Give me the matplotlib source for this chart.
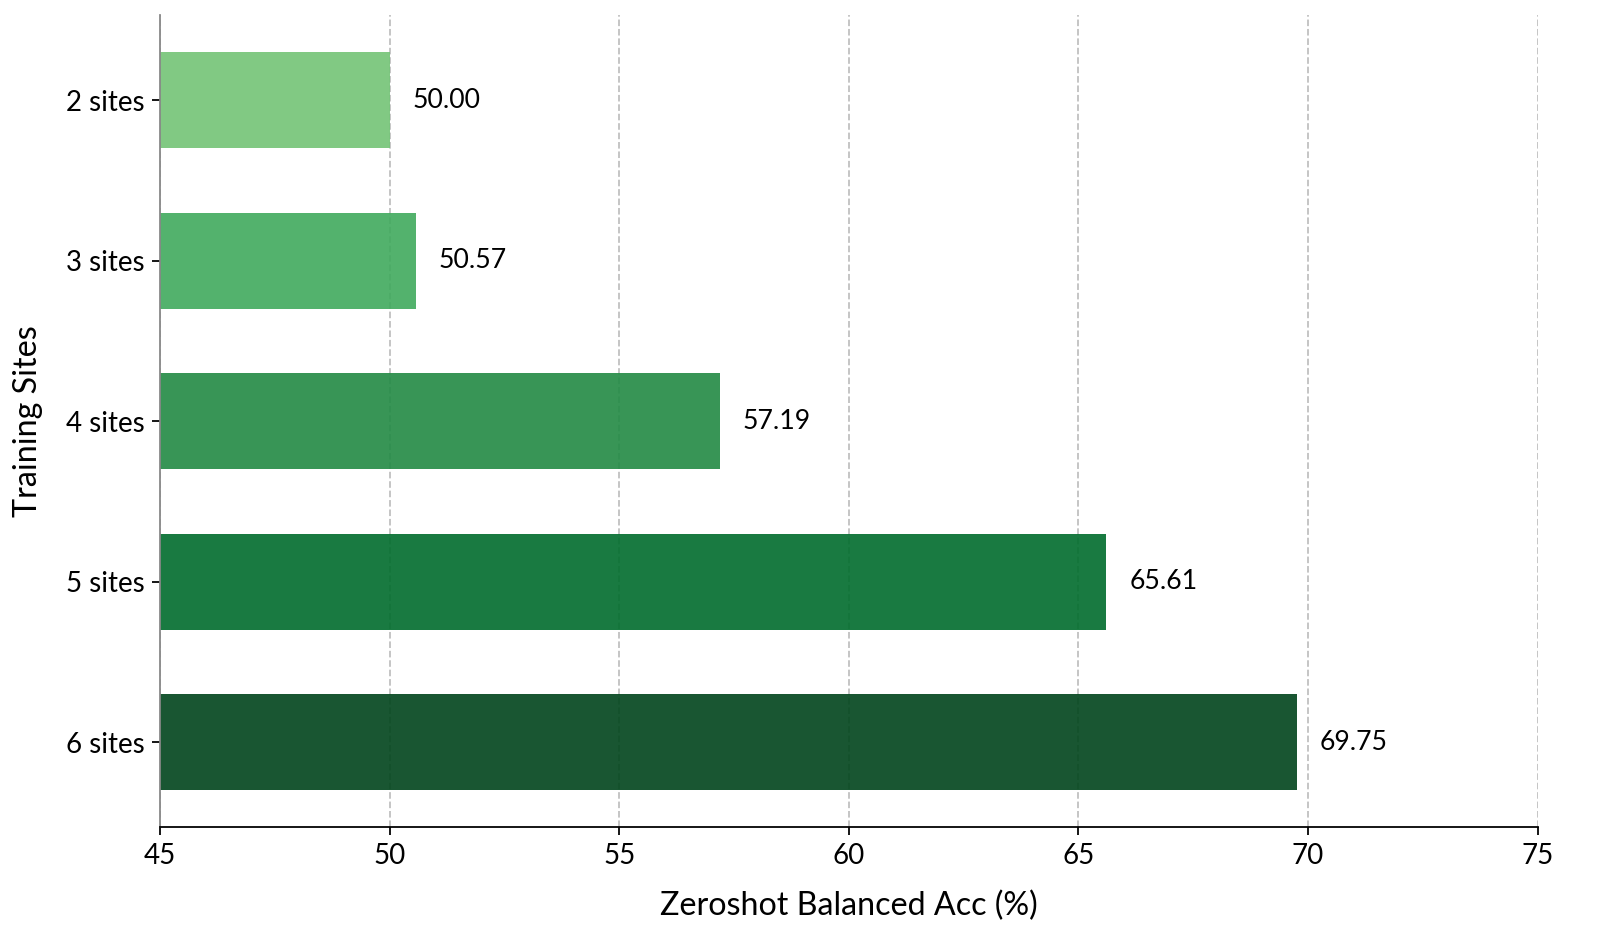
import numpy as np
import matplotlib
matplotlib.use("Agg")
import matplotlib.pyplot as plt

plt.rcParams['font.family'] = ['Lato', 'DejaVu Sans']

# data
sites = ['2 sites', '3 sites', '4 sites', '5 sites', '6 sites']
acc = [50.00, 50.57, 57.19, 65.61, 69.75]

colors = plt.cm.Greens(np.linspace(0.5, 1.0, len(sites)))

fig = plt.figure(figsize=(10, 5.95), dpi=160)
ax = fig.add_axes([0.1, 0.131, 0.861, 0.853])

y = np.arange(len(sites))
ax.barh(y, acc, height=0.6, color=colors, alpha=0.9, zorder=2)
for yi, v in zip(y, acc):
    ax.text(v + 0.5, yi, f"{v:.2f}", va='center', ha='left', fontsize=12)

ax.set_yticks(y)
ax.set_yticklabels(sites, fontsize=12.5)
ax.invert_yaxis()
ax.set_xlim(45, 75)
ax.tick_params(axis='x', labelsize=12.5)
ax.set_xlabel('Zeroshot Balanced Acc (%)', fontsize=14.5, labelpad=10)
ax.set_ylabel('Training Sites', fontsize=14.5, labelpad=10)

ax.grid(axis='x', linestyle='--', color='gray', alpha=0.5, zorder=0)
ax.set_axisbelow(True)

ax.spines['top'].set_visible(False)
ax.spines['right'].set_visible(False)
ax.spines['left'].set_color('#888888')

fig.savefig('out.png', dpi=160)
